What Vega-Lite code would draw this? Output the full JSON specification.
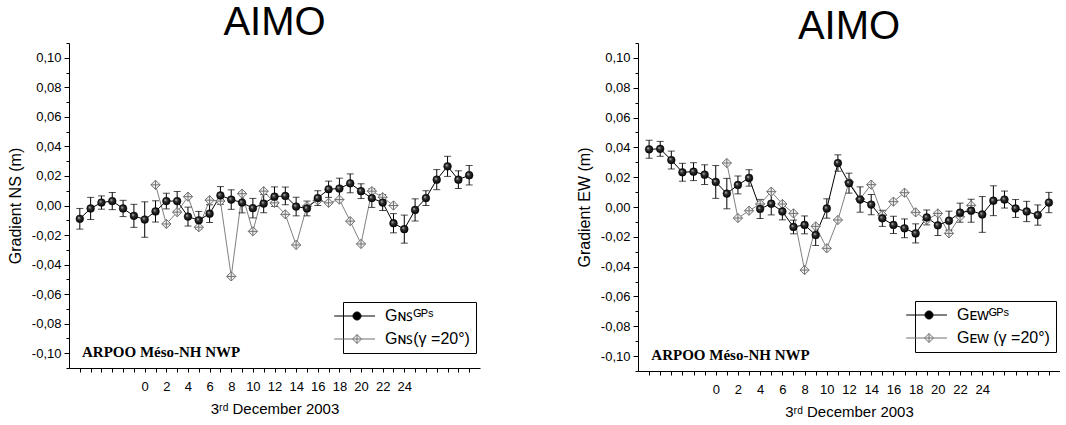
{
  "$schema": "https://vega.github.io/schema/vega-lite/v6.json",
  "background": "white",
  "padding": {"left": 7, "top": 3, "right": 0, "bottom": 0},
  "spacing": 96,
  "config": {
    "view": {"stroke": null},
    "font": "Liberation Sans",
    "axis": {"domainColor": "black", "tickColor": "black", "labelColor": "black", "titleColor": "black", "grid": false, "labelFont": "Liberation Sans", "titleFont": "Liberation Sans", "titleFontWeight": "normal", "labelFontSize": 13, "titleFontSize": 16, "labelOverlap": false, "labelFlush": false, "labelBound": false, "tickCount": 200},
    "title": {"font": "Liberation Sans", "fontSize": 40, "fontWeight": "normal", "color": "black"},
    "legend": {"title": null, "orient": "none", "strokeColor": "black", "fillColor": "white", "padding": 6, "labelFont": "Liberation Sans", "labelFontSize": 16, "labelColor": "black", "symbolSize": 144, "symbolStrokeWidth": 1, "symbolOpacity": 1, "rowPadding": 7, "labelOffset": 20}
  },
  "resolve": {"scale": {"x": "independent", "y": "independent", "shape": "independent", "fill": "independent", "stroke": "independent"}, "legend": {"shape": "independent", "fill": "independent", "stroke": "independent"}},
  "datasets": {
    "ns": [
      {"t": -6, "series": "GPS", "g": -0.009, "lo": -0.016, "hi": -0.002},
      {"t": -5, "series": "GPS", "g": -0.002, "lo": -0.0095, "hi": 0.0055},
      {"t": -4, "series": "GPS", "g": 0.002, "lo": -0.0025, "hi": 0.0065},
      {"t": -3, "series": "GPS", "g": 0.003, "lo": -0.0028, "hi": 0.0088},
      {"t": -2, "series": "GPS", "g": -0.002, "lo": -0.0075, "hi": 0.0035},
      {"t": -1, "series": "GPS", "g": -0.007, "lo": -0.0148, "hi": 0.0008},
      {"t": 0, "series": "GPS", "g": -0.0095, "lo": -0.0215, "hi": 0.0025},
      {"t": 1, "series": "GPS", "g": -0.004, "lo": -0.0112, "hi": 0.0032},
      {"t": 2, "series": "GPS", "g": 0.003, "lo": -0.0023, "hi": 0.0083},
      {"t": 3, "series": "GPS", "g": 0.003, "lo": -0.0035, "hi": 0.0095},
      {"t": 4, "series": "GPS", "g": -0.0075, "lo": -0.0139, "hi": -0.0011},
      {"t": 5, "series": "GPS", "g": -0.01, "lo": -0.016, "hi": -0.004},
      {"t": 6, "series": "GPS", "g": -0.0055, "lo": -0.0115, "hi": 0.0005},
      {"t": 7, "series": "GPS", "g": 0.0068, "lo": 0.0008, "hi": 0.0128},
      {"t": 8, "series": "GPS", "g": 0.004, "lo": -0.0026, "hi": 0.0106},
      {"t": 9, "series": "GPS", "g": 0.002, "lo": -0.005, "hi": 0.009},
      {"t": 10, "series": "GPS", "g": -0.0018, "lo": -0.0084, "hi": 0.0048},
      {"t": 11, "series": "GPS", "g": 0.0013, "lo": -0.0049, "hi": 0.0075},
      {"t": 12, "series": "GPS", "g": 0.006, "lo": -0.0006, "hi": 0.0126},
      {"t": 13, "series": "GPS", "g": 0.0065, "lo": 0.0005, "hi": 0.0125},
      {"t": 14, "series": "GPS", "g": -0.0007, "lo": -0.007, "hi": 0.0056},
      {"t": 15, "series": "GPS", "g": -0.002, "lo": -0.007, "hi": 0.003},
      {"t": 16, "series": "GPS", "g": 0.005, "lo": 0.0, "hi": 0.01},
      {"t": 17, "series": "GPS", "g": 0.011, "lo": 0.0055, "hi": 0.0165},
      {"t": 18, "series": "GPS", "g": 0.0115, "lo": 0.0045, "hi": 0.0185},
      {"t": 19, "series": "GPS", "g": 0.015, "lo": 0.0086, "hi": 0.0214},
      {"t": 20, "series": "GPS", "g": 0.0097, "lo": 0.0047, "hi": 0.0147},
      {"t": 21, "series": "GPS", "g": 0.005, "lo": -0.0013, "hi": 0.0113},
      {"t": 22, "series": "GPS", "g": 0.002, "lo": -0.0034, "hi": 0.0074},
      {"t": 23, "series": "GPS", "g": -0.012, "lo": -0.0185, "hi": -0.0055},
      {"t": 24, "series": "GPS", "g": -0.016, "lo": -0.0255, "hi": -0.0065},
      {"t": 25, "series": "GPS", "g": -0.003, "lo": -0.0105, "hi": 0.0045},
      {"t": 26, "series": "GPS", "g": 0.005, "lo": 0.0, "hi": 0.01},
      {"t": 27, "series": "GPS", "g": 0.0175, "lo": 0.0107, "hi": 0.0243},
      {"t": 28, "series": "GPS", "g": 0.0265, "lo": 0.0197, "hi": 0.0333},
      {"t": 29, "series": "GPS", "g": 0.0175, "lo": 0.0115, "hi": 0.0235},
      {"t": 30, "series": "GPS", "g": 0.0205, "lo": 0.0139, "hi": 0.0271},
      {"t": 1, "series": "model", "g": 0.014},
      {"t": 2, "series": "model", "g": -0.0125},
      {"t": 3, "series": "model", "g": -0.0045},
      {"t": 4, "series": "model", "g": 0.006},
      {"t": 5, "series": "model", "g": -0.0147},
      {"t": 6, "series": "model", "g": 0.0036},
      {"t": 7, "series": "model", "g": 0.003},
      {"t": 8, "series": "model", "g": -0.048},
      {"t": 9, "series": "model", "g": 0.008},
      {"t": 10, "series": "model", "g": -0.0175},
      {"t": 11, "series": "model", "g": 0.0097},
      {"t": 12, "series": "model", "g": 0.0018},
      {"t": 13, "series": "model", "g": -0.006},
      {"t": 14, "series": "model", "g": -0.0267},
      {"t": 15, "series": "model", "g": -0.0005},
      {"t": 16, "series": "model", "g": 0.0034},
      {"t": 17, "series": "model", "g": 0.0018},
      {"t": 18, "series": "model", "g": 0.004},
      {"t": 19, "series": "model", "g": -0.0106},
      {"t": 20, "series": "model", "g": -0.026},
      {"t": 21, "series": "model", "g": 0.0097},
      {"t": 22, "series": "model", "g": 0.0056},
      {"t": 23, "series": "model", "g": 0.0}
    ],
    "ew": [
      {"t": -6, "series": "GPS", "g": 0.0387, "lo": 0.0327, "hi": 0.0447},
      {"t": -5, "series": "GPS", "g": 0.039, "lo": 0.034, "hi": 0.044},
      {"t": -4, "series": "GPS", "g": 0.0315, "lo": 0.0255, "hi": 0.0375},
      {"t": -3, "series": "GPS", "g": 0.0233, "lo": 0.0173, "hi": 0.0293},
      {"t": -2, "series": "GPS", "g": 0.0237, "lo": 0.0177, "hi": 0.0297},
      {"t": -1, "series": "GPS", "g": 0.0217, "lo": 0.0151, "hi": 0.0283},
      {"t": 0, "series": "GPS", "g": 0.0168, "lo": 0.0058, "hi": 0.0278},
      {"t": 1, "series": "GPS", "g": 0.009, "lo": -0.0012, "hi": 0.0192},
      {"t": 2, "series": "GPS", "g": 0.0148, "lo": 0.0088, "hi": 0.0208},
      {"t": 3, "series": "GPS", "g": 0.0195, "lo": 0.014, "hi": 0.025},
      {"t": 4, "series": "GPS", "g": -0.0013, "lo": -0.0077, "hi": 0.0051},
      {"t": 5, "series": "GPS", "g": 0.0022, "lo": -0.0053, "hi": 0.0097},
      {"t": 6, "series": "GPS", "g": -0.003, "lo": -0.0086, "hi": 0.0026},
      {"t": 7, "series": "GPS", "g": -0.0134, "lo": -0.018, "hi": -0.0088},
      {"t": 8, "series": "GPS", "g": -0.012, "lo": -0.018, "hi": -0.006},
      {"t": 9, "series": "GPS", "g": -0.0188, "lo": -0.0258, "hi": -0.0118},
      {"t": 10, "series": "GPS", "g": -0.001, "lo": -0.0075, "hi": 0.0055},
      {"t": 11, "series": "GPS", "g": 0.0295, "lo": 0.024, "hi": 0.035},
      {"t": 12, "series": "GPS", "g": 0.016, "lo": 0.0093, "hi": 0.0227},
      {"t": 13, "series": "GPS", "g": 0.005, "lo": -0.0035, "hi": 0.0135},
      {"t": 14, "series": "GPS", "g": 0.0016, "lo": -0.0052, "hi": 0.0084},
      {"t": 15, "series": "GPS", "g": -0.0076, "lo": -0.013, "hi": -0.0022},
      {"t": 16, "series": "GPS", "g": -0.012, "lo": -0.0178, "hi": -0.0062},
      {"t": 17, "series": "GPS", "g": -0.0143, "lo": -0.0206, "hi": -0.008},
      {"t": 18, "series": "GPS", "g": -0.0177, "lo": -0.0241, "hi": -0.0113},
      {"t": 19, "series": "GPS", "g": -0.007, "lo": -0.012, "hi": -0.002},
      {"t": 20, "series": "GPS", "g": -0.0123, "lo": -0.0191, "hi": -0.0055},
      {"t": 21, "series": "GPS", "g": -0.0092, "lo": -0.0156, "hi": -0.0028},
      {"t": 22, "series": "GPS", "g": -0.0038, "lo": -0.0102, "hi": 0.0026},
      {"t": 23, "series": "GPS", "g": -0.0025, "lo": -0.0102, "hi": 0.0052},
      {"t": 24, "series": "GPS", "g": -0.005, "lo": -0.017, "hi": 0.007},
      {"t": 25, "series": "GPS", "g": 0.0042, "lo": -0.0058, "hi": 0.0142},
      {"t": 26, "series": "GPS", "g": 0.005, "lo": -0.0007, "hi": 0.0107},
      {"t": 27, "series": "GPS", "g": -0.001, "lo": -0.007, "hi": 0.005},
      {"t": 28, "series": "GPS", "g": -0.003, "lo": -0.0098, "hi": 0.0038},
      {"t": 29, "series": "GPS", "g": -0.0054, "lo": -0.0122, "hi": 0.0014},
      {"t": 30, "series": "GPS", "g": 0.003, "lo": -0.0038, "hi": 0.0098},
      {"t": 1, "series": "model", "g": 0.0295},
      {"t": 2, "series": "model", "g": -0.0074},
      {"t": 3, "series": "model", "g": -0.0025},
      {"t": 4, "series": "model", "g": 0.002},
      {"t": 5, "series": "model", "g": 0.0103},
      {"t": 6, "series": "model", "g": 0.002},
      {"t": 7, "series": "model", "g": -0.0043},
      {"t": 8, "series": "model", "g": -0.0423},
      {"t": 9, "series": "model", "g": -0.013},
      {"t": 10, "series": "model", "g": -0.0277},
      {"t": 11, "series": "model", "g": -0.0087},
      {"t": 12, "series": "model", "g": 0.0168},
      {"t": 13, "series": "model", "g": 0.0054},
      {"t": 14, "series": "model", "g": 0.015},
      {"t": 15, "series": "model", "g": -0.0054},
      {"t": 16, "series": "model", "g": 0.0036},
      {"t": 17, "series": "model", "g": 0.0096},
      {"t": 18, "series": "model", "g": -0.0036},
      {"t": 19, "series": "model", "g": -0.0087},
      {"t": 20, "series": "model", "g": -0.0043},
      {"t": 21, "series": "model", "g": -0.0177},
      {"t": 22, "series": "model", "g": -0.0065},
      {"t": 23, "series": "model", "g": 0.0011}
    ]
  },
  "hconcat": [
    {
      "width": 411,
      "height": 325,
      "title": {"text": "AIMO", "offset": -6},
      "data": {"name": "ns"},
      "layer": [
        {
          "transform": [{"filter": "datum.series == 'model'"}],
          "mark": {"type": "line", "color": "#808080", "strokeWidth": 1},
          "encoding": {
            "x": {"field": "t", "type": "quantitative", "title": "3ʳᵈ December 2003", "scale": {"domain": [-7, 31], "nice": false, "zero": false},
              "axis": {"titleFontSize": 15, "tickCount": 200, "values": [-6,-5,-4,-3,-2,-1,0,1,2,3,4,5,6,7,8,9,10,11,12,13,14,15,16,17,18,19,20,21,22,23,24,25,26,27,28,29,30], "labelExpr": "datum.value >= 0 && datum.value <= 24 && datum.value % 2 == 0 ? format(datum.value, 'd') : ''", "tickSize": 4, "labelPadding": 8, "titlePadding": 8, "labelFontSize": 13}},
            "y": {"field": "g", "type": "quantitative", "title": "Gradient NS (m)", "scale": {"domain": [-0.11, 0.11], "nice": false, "zero": false},
              "axis": {"tickCount": 200, "values": [-0.11,-0.1,-0.09,-0.08,-0.07,-0.06,-0.05,-0.04,-0.03,-0.02,-0.01,0,0.01,0.02,0.03,0.04,0.05,0.06,0.07,0.08,0.09,0.1,0.11], "labelExpr": "abs(round(datum.value*100)) % 2 == 0 && abs(datum.value) < 0.105 ? (datum.value < -0.001 ? '-' : '') + replace(format(abs(datum.value), '.2f'), '.', ',') : ''", "tickSize": {"condition": {"test": "abs(round(datum.value*100)) % 2 == 0", "value": 5}, "value": 3}, "labelPadding": 3, "titlePadding": 8}}
          }
        },
        {
          "transform": [{"filter": "datum.series == 'GPS'"}],
          "mark": {"type": "line", "color": "black", "strokeWidth": 1},
          "encoding": {"x": {"field": "t", "type": "quantitative", "title": "3ʳᵈ December 2003"}, "y": {"field": "g", "type": "quantitative", "title": "Gradient NS (m)"}}
        },
        {
          "transform": [{"filter": "datum.series == 'GPS'"}],
          "mark": {"type": "errorbar", "color": "black", "ticks": {"size": 7, "thickness": 1, "color": "black"}, "rule": {"strokeWidth": 1, "color": "black"}},
          "encoding": {"x": {"field": "t", "type": "quantitative", "title": "3ʳᵈ December 2003"}, "y": {"field": "lo", "type": "quantitative", "title": "Gradient NS (m)"}, "y2": {"field": "hi"}}
        },
        {
          "transform": [{"filter": "datum.series == 'model'"}],
          "mark": {"type": "point", "shape": "M0,-1L1,0L0,1L-1,0ZM0,-1L0,1M-1,0L1,0", "size": 85, "filled": true, "fill": "#f0f0f0", "stroke": "#707070", "strokeWidth": 1, "opacity": 1},
          "encoding": {"x": {"field": "t", "type": "quantitative", "title": "3ʳᵈ December 2003"}, "y": {"field": "g", "type": "quantitative", "title": "Gradient NS (m)"}}
        },
        {
          "transform": [{"filter": "datum.series == 'GPS'"}],
          "mark": {"type": "point", "shape": "circle", "size": 60, "filled": true, "fill": {"gradient": "radial", "x1": 0.35, "y1": 0.35, "r1": 0, "x2": 0.5, "y2": 0.5, "r2": 0.55, "stops": [{"offset": 0, "color": "#e0e0e0"}, {"offset": 0.35, "color": "#333333"}, {"offset": 1, "color": "#000000"}]}, "stroke": "black", "strokeWidth": 0.5, "opacity": 1},
          "encoding": {"x": {"field": "t", "type": "quantitative", "title": "3ʳᵈ December 2003"}, "y": {"field": "g", "type": "quantitative", "title": "Gradient NS (m)"}}
        },
        {
          "mark": {"type": "point", "opacity": 0},
          "encoding": {
            "x": {"field": "t", "type": "quantitative", "title": "3ʳᵈ December 2003"},
            "y": {"field": "g", "type": "quantitative", "title": "Gradient NS (m)"},
            "shape": {"field": "series", "type": "nominal", "scale": {"domain": ["GPS", "model"], "range": ["M-3.8,0L-0.67,0M0.67,0L3,0M-0.67,0A0.67,0.67,0,1,1,0.67,0A0.67,0.67,0,1,1,-0.67,0Z", "M-3.8,0L-0.75,0M0.75,0L3,0M0,-0.75L0.75,0L0,0.75L-0.75,0ZM0,-0.75L0,0.75M-0.75,0L0.75,0"]},
              "legend": {"legendX": 274, "legendY": 259, "labelExpr": "datum.label == 'GPS' ? 'Gɴꜱᴳᴾˢ' : 'Gɴꜱ(γ =20°)'"}},
            "fill": {"field": "series", "type": "nominal", "scale": {"domain": ["GPS", "model"], "range": ["black", "#f0f0f0"]},
              "legend": {"legendX": 274, "legendY": 259, "labelExpr": "datum.label == 'GPS' ? 'Gɴꜱᴳᴾˢ' : 'Gɴꜱ(γ =20°)'"}},
            "stroke": {"field": "series", "type": "nominal", "scale": {"domain": ["GPS", "model"], "range": ["black", "#707070"]},
              "legend": {"legendX": 274, "legendY": 259, "labelExpr": "datum.label == 'GPS' ? 'Gɴꜱᴳᴾˢ' : 'Gɴꜱ(γ =20°)'"}}
          }
        },
        {
          "data": {"values": [{"label": "ARPOO Méso-NH NWP"}]},
          "mark": {"type": "text", "font": "Liberation Serif", "fontWeight": "bold", "fontSize": 15, "align": "left", "baseline": "middle", "color": "black"},
          "encoding": {"x": {"datum": -5.8}, "y": {"datum": -0.099}, "text": {"field": "label"}}
        }
      ]
    },
    {
      "width": 422,
      "height": 328,
      "title": {"text": "AIMO", "offset": -10},
      "data": {"name": "ew"},
      "layer": [
        {
          "transform": [{"filter": "datum.series == 'model'"}],
          "mark": {"type": "line", "color": "#808080", "strokeWidth": 1},
          "encoding": {
            "x": {"field": "t", "type": "quantitative", "title": "3ʳᵈ December 2003", "scale": {"domain": [-7, 31], "nice": false, "zero": false},
              "axis": {"titleFontSize": 15, "tickCount": 200, "values": [-6,-5,-4,-3,-2,-1,0,1,2,3,4,5,6,7,8,9,10,11,12,13,14,15,16,17,18,19,20,21,22,23,24,25,26,27,28,29,30], "labelExpr": "datum.value >= 0 && datum.value <= 24 && datum.value % 2 == 0 ? format(datum.value, 'd') : ''", "tickSize": 4, "labelPadding": 8, "titlePadding": 8, "labelFontSize": 13}},
            "y": {"field": "g", "type": "quantitative", "title": "Gradient EW (m)", "scale": {"domain": [-0.11, 0.11], "nice": false, "zero": false},
              "axis": {"tickCount": 200, "values": [-0.11,-0.1,-0.09,-0.08,-0.07,-0.06,-0.05,-0.04,-0.03,-0.02,-0.01,0,0.01,0.02,0.03,0.04,0.05,0.06,0.07,0.08,0.09,0.1,0.11], "labelExpr": "abs(round(datum.value*100)) % 2 == 0 && abs(datum.value) < 0.105 ? (datum.value < -0.001 ? '-' : '') + replace(format(abs(datum.value), '.2f'), '.', ',') : ''", "tickSize": {"condition": {"test": "abs(round(datum.value*100)) % 2 == 0", "value": 5}, "value": 3}, "labelPadding": 3, "titlePadding": 8}}
          }
        },
        {
          "transform": [{"filter": "datum.series == 'GPS'"}],
          "mark": {"type": "line", "color": "black", "strokeWidth": 1},
          "encoding": {"x": {"field": "t", "type": "quantitative", "title": "3ʳᵈ December 2003"}, "y": {"field": "g", "type": "quantitative", "title": "Gradient EW (m)"}}
        },
        {
          "transform": [{"filter": "datum.series == 'GPS'"}],
          "mark": {"type": "errorbar", "color": "black", "ticks": {"size": 7, "thickness": 1, "color": "black"}, "rule": {"strokeWidth": 1, "color": "black"}},
          "encoding": {"x": {"field": "t", "type": "quantitative", "title": "3ʳᵈ December 2003"}, "y": {"field": "lo", "type": "quantitative", "title": "Gradient EW (m)"}, "y2": {"field": "hi"}}
        },
        {
          "transform": [{"filter": "datum.series == 'model'"}],
          "mark": {"type": "point", "shape": "M0,-1L1,0L0,1L-1,0ZM0,-1L0,1M-1,0L1,0", "size": 85, "filled": true, "fill": "#f0f0f0", "stroke": "#707070", "strokeWidth": 1, "opacity": 1},
          "encoding": {"x": {"field": "t", "type": "quantitative", "title": "3ʳᵈ December 2003"}, "y": {"field": "g", "type": "quantitative", "title": "Gradient EW (m)"}}
        },
        {
          "transform": [{"filter": "datum.series == 'GPS'"}],
          "mark": {"type": "point", "shape": "circle", "size": 60, "filled": true, "fill": {"gradient": "radial", "x1": 0.35, "y1": 0.35, "r1": 0, "x2": 0.5, "y2": 0.5, "r2": 0.55, "stops": [{"offset": 0, "color": "#e0e0e0"}, {"offset": 0.35, "color": "#333333"}, {"offset": 1, "color": "#000000"}]}, "stroke": "black", "strokeWidth": 0.5, "opacity": 1},
          "encoding": {"x": {"field": "t", "type": "quantitative", "title": "3ʳᵈ December 2003"}, "y": {"field": "g", "type": "quantitative", "title": "Gradient EW (m)"}}
        },
        {
          "mark": {"type": "point", "opacity": 0},
          "encoding": {
            "x": {"field": "t", "type": "quantitative", "title": "3ʳᵈ December 2003"},
            "y": {"field": "g", "type": "quantitative", "title": "Gradient EW (m)"},
            "shape": {"field": "series", "type": "nominal", "scale": {"domain": ["GPS", "model"], "range": ["M-3.8,0L-0.67,0M0.67,0L3,0M-0.67,0A0.67,0.67,0,1,1,0.67,0A0.67,0.67,0,1,1,-0.67,0Z", "M-3.8,0L-0.75,0M0.75,0L3,0M0,-0.75L0.75,0L0,0.75L-0.75,0ZM0,-0.75L0,0.75M-0.75,0L0.75,0"]},
              "legend": {"legendX": 277, "legendY": 258, "labelExpr": "datum.label == 'GPS' ? 'Gᴇᴡᴳᴾˢ' : 'Gᴇᴡ (γ =20°)'"}},
            "fill": {"field": "series", "type": "nominal", "scale": {"domain": ["GPS", "model"], "range": ["black", "#f0f0f0"]},
              "legend": {"legendX": 277, "legendY": 258, "labelExpr": "datum.label == 'GPS' ? 'Gᴇᴡᴳᴾˢ' : 'Gᴇᴡ (γ =20°)'"}},
            "stroke": {"field": "series", "type": "nominal", "scale": {"domain": ["GPS", "model"], "range": ["black", "#707070"]},
              "legend": {"legendX": 277, "legendY": 258, "labelExpr": "datum.label == 'GPS' ? 'Gᴇᴡᴳᴾˢ' : 'Gᴇᴡ (γ =20°)'"}}
          }
        },
        {
          "data": {"values": [{"label": "ARPOO Méso-NH NWP"}]},
          "mark": {"type": "text", "font": "Liberation Serif", "fontWeight": "bold", "fontSize": 15, "align": "left", "baseline": "middle", "color": "black"},
          "encoding": {"x": {"datum": -5.8}, "y": {"datum": -0.099}, "text": {"field": "label"}}
        }
      ]
    }
  ]
}
